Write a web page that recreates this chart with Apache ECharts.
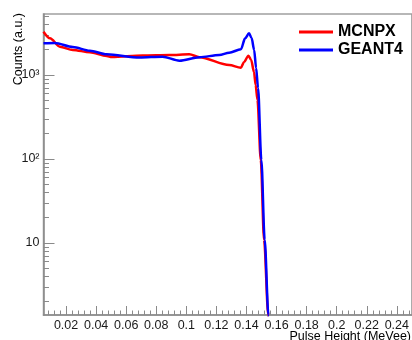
<!DOCTYPE html>
<html><head><meta charset="utf-8">
<script src="https://cdn.jsdelivr.net/npm/echarts@6/dist/echarts.min.js"></script>
<style>html,body{margin:0;padding:0;background:#fff}#c{width:412px;height:340px}</style>
</head><body><div id="c"></div>
<script>
// ---- data ----
const mcnpxX = [0.005, 0.0093, 0.0159, 0.0245, 0.0358, 0.047, 0.0504, 0.0709, 0.0888, 0.102, 0.1087, 0.1285, 0.1363, 0.1384, 0.1413, 0.1431, 0.145, 0.1461, 0.1473, 0.1495, 0.1517, 0.1545, 0.1555];
const mcnpxY = [3275, 2737, 2173, 1986, 1862, 1683, 1638, 1706, 1730, 1763, 1626, 1315, 1222, 1430, 1698, 1510, 1086, 760, 504, 97, 10.9, 1.39, 0.3];
const geantX = [0.005, 0.0126, 0.0245, 0.0358, 0.047, 0.0689, 0.0841, 0.0954, 0.1087, 0.1219, 0.1285, 0.1363, 0.1391, 0.1417, 0.1434, 0.1451, 0.1464, 0.1477, 0.1499, 0.1521, 0.1546, 0.1556];
const geantY = [2383, 2404, 2154, 1946, 1762, 1616, 1652, 1479, 1626, 1730, 1842, 2024, 2735, 3133, 2755, 1987, 1211, 700, 97, 10.9, 1.39, 0.3];

const xMajorTicks = [0.02, 0.04, 0.06, 0.08, 0.1, 0.12, 0.14, 0.16, 0.18, 0.2, 0.22, 0.24];
const xTickLabels = ['0.02', '0.04', '0.06', '0.08', '0.1', '0.12', '0.14', '0.16', '0.18', '0.2', '0.22', '0.24'];
const yMajorTicks = [10, 100, 1000];
const yTickLabels = ['10', '10\u00b2', '10\u00b3'];
const yMinorTicks = [2,3,4,5,6,7,8,9,20,30,40,50,60,70,80,90,200,300,400,500,600,700,800,900,2000,3000,4000,5000];
const xMin = 0.005, xMax = 0.25, yMin = 1.39, yMax = 5320;

// minor x ticks every 0.004 (axis decoration only)
const xMinorTicks = [];
for (let k = 2; k <= 62; k++) { if (k % 5 !== 0) xMinorTicks.push(+(k * 0.004).toFixed(3)); }

const lg = v => Math.log10(v);
const FONT = '"Liberation Sans", Arial, Helvetica, sans-serif';
const AX = '#8a8a8a';

const chart = echarts.init(document.getElementById('c'), null, {renderer: 'canvas'});
const commonX = {type: 'value', min: xMin, max: xMax, position: 'bottom', splitLine: {show: false}};
const commonY = {type: 'value', min: lg(yMin), max: lg(yMax), position: 'left', splitLine: {show: false}};
chart.setOption({
  animation: false,
  backgroundColor: '#fff',
  grid: {left: 43.5, top: 14, right: -1.5, bottom: 25, show: true, borderColor: '#a0a0a0', borderWidth: 1.5, backgroundColor: 'transparent'},
  legend: {
    orient: 'vertical', left: 299, top: 24, padding: 0, itemWidth: 34, itemHeight: 3, itemGap: 2, icon: 'rect',
    textStyle: {fontFamily: FONT, fontSize: 16, fontWeight: 'bold', color: '#000', lineHeight: 16},
    data: ['MCNPX', 'GEANT4']
  },
  xAxis: [
    Object.assign({}, commonX, {
      axisLine: {show: true, lineStyle: {color: AX, width: 1.5}},
      axisTick: {show: true, inside: true, length: 9, customValues: xMajorTicks, lineStyle: {color: AX, width: 1}},
      axisLabel: {show: true, customValues: xMajorTicks, margin: 4, fontFamily: FONT, fontSize: 12.5, color: '#1a1a1a',
        formatter: v => { const i = xMajorTicks.findIndex(t => Math.abs(t - v) < 1e-9); return i >= 0 ? xTickLabels[i] : ''; }}
    }),
    Object.assign({}, commonX, {
      axisLine: {show: false},
      axisTick: {show: true, inside: true, length: 4.5, customValues: xMinorTicks, lineStyle: {color: AX, width: 1}},
      axisLabel: {show: false}
    })
  ],
  yAxis: [
    Object.assign({}, commonY, {
      axisLine: {show: true, lineStyle: {color: AX, width: 1.5}},
      axisTick: {show: true, inside: true, length: 11, customValues: yMajorTicks.map(lg), lineStyle: {color: AX, width: 1}},
      axisLabel: {show: true, customValues: yMajorTicks.map(lg), margin: 4, fontFamily: FONT, fontSize: 12.5, color: '#1a1a1a',
        formatter: v => { const i = yMajorTicks.findIndex(t => Math.abs(lg(t) - v) < 1e-9); return i >= 0 ? yTickLabels[i] : ''; }}
    }),
    Object.assign({}, commonY, {
      axisLine: {show: false},
      axisTick: {show: true, inside: true, length: 5.5, customValues: yMinorTicks.map(lg), lineStyle: {color: AX, width: 1}},
      axisLabel: {show: false}
    })
  ],
  series: [
    {name: 'MCNPX', type: 'line', xAxisIndex: 0, yAxisIndex: 0, data: mcnpxX.map((x, i) => [x, lg(mcnpxY[i])]),
     showSymbol: false, symbol: 'none', smooth: 0.3, smoothMonotone: 'x', clip: true,
     itemStyle: {color: '#ff0000'}, lineStyle: {color: '#ff0000', width: 2.5}},
    {name: 'GEANT4', type: 'line', xAxisIndex: 0, yAxisIndex: 0, data: geantX.map((x, i) => [x, lg(geantY[i])]),
     showSymbol: false, symbol: 'none', smooth: 0.3, smoothMonotone: 'x', clip: true,
     itemStyle: {color: '#0000ff'}, lineStyle: {color: '#0000ff', width: 2.5}}
  ],
  graphic: [
    {type: 'text', x: 411, y: 337, style: {text: 'Pulse Height (MeVee)', font: '12.5px ' + FONT, fill: '#000', align: 'right', verticalAlign: 'middle', textAlign: 'right', textVerticalAlign: 'middle'}},
    {type: 'text', x: 18.5, y: 13, rotation: Math.PI / 2, style: {text: 'Counts (a.u.)', font: '12.5px ' + FONT, fill: '#000', align: 'right', verticalAlign: 'middle', textAlign: 'right', textVerticalAlign: 'middle'}}
  ]
});
</script>
</body></html>
